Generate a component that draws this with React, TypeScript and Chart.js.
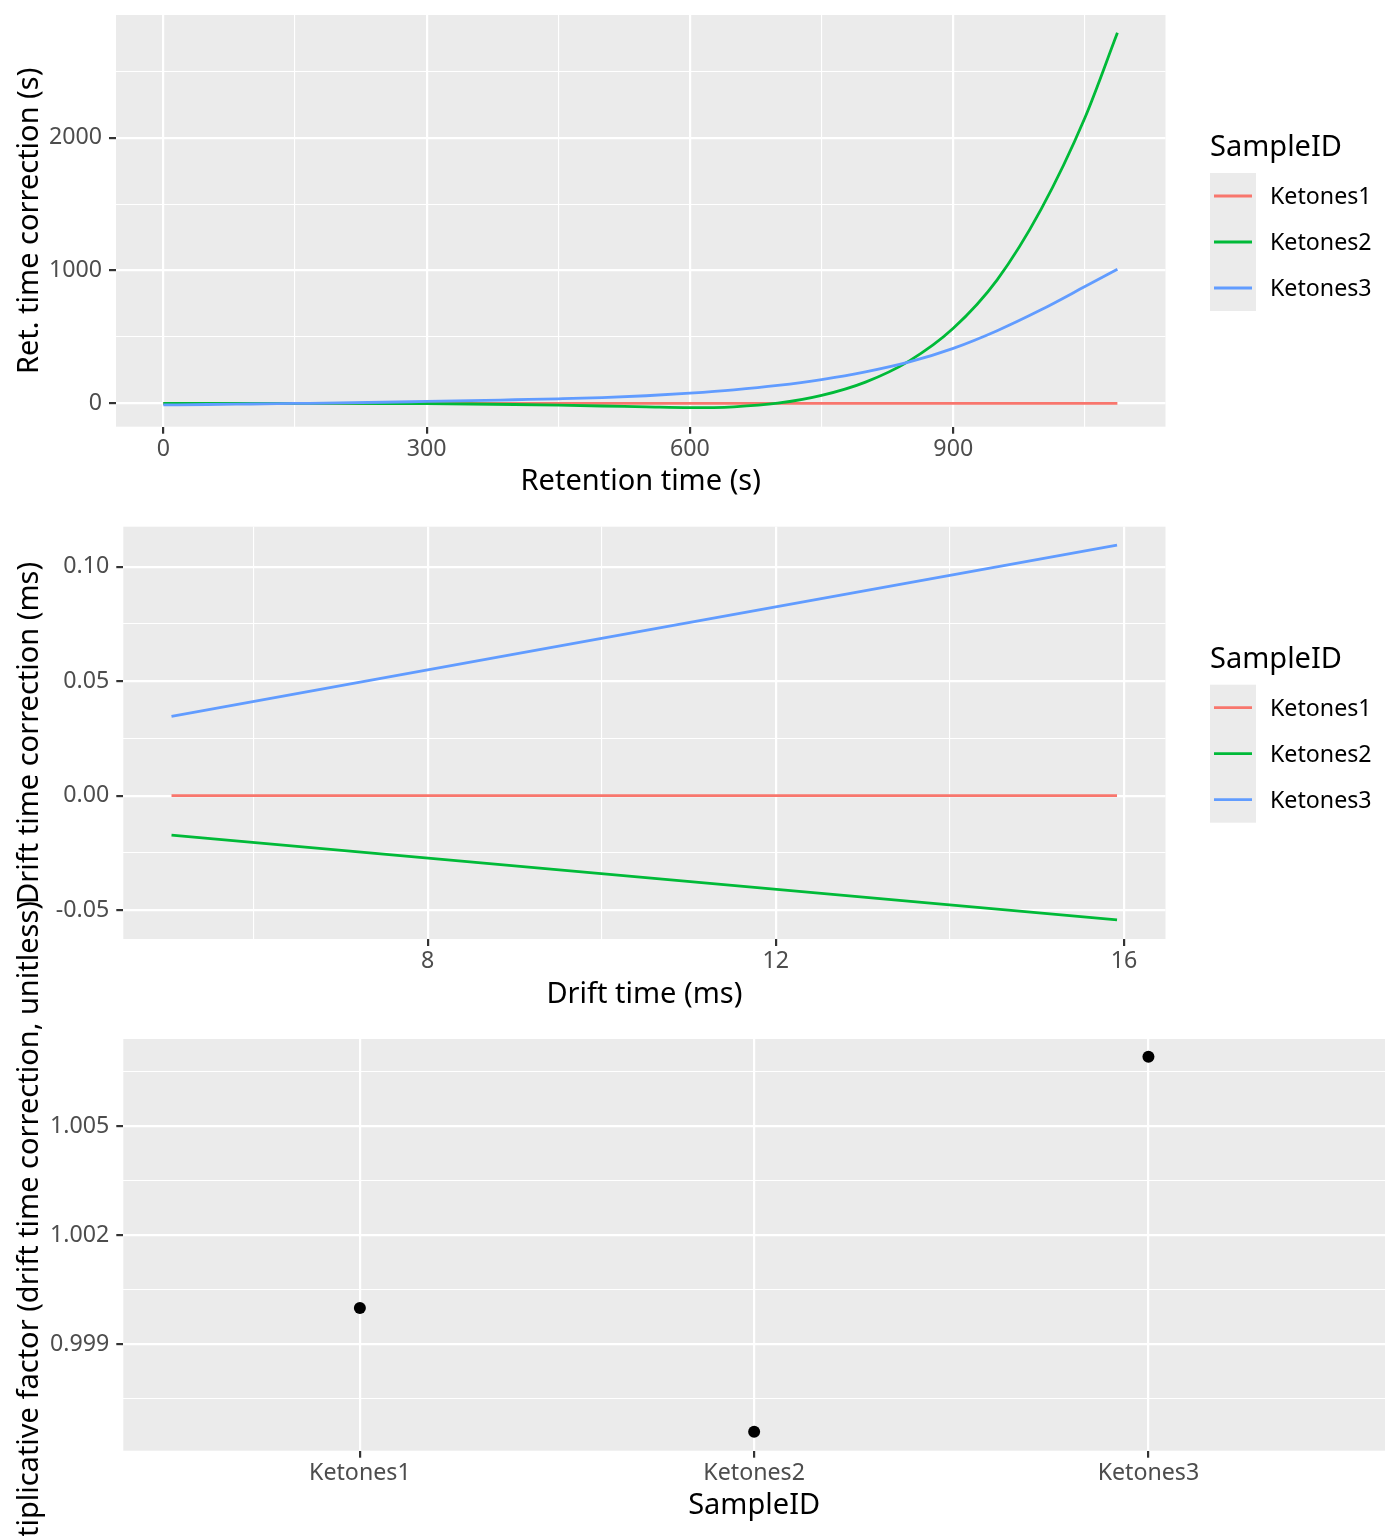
import React, { useEffect, useRef } from "react";
import { Chart, registerables } from "chart.js";

Chart.register(...registerables);

const FONT = "'Noto Sans', 'DejaVu Sans', sans-serif";
const TICK_SIZE = 23.2;
const TITLE_SIZE = 29;

// ---------- data ----------
const sampleIds = ["Ketones1", "Ketones2", "Ketones3"];
const sampleColors = ["#F8766D", "#00BA38", "#619CFF"];

// Panel 1: retention time correction
const retentionTime = [0, 50, 100, 150, 200, 250, 300, 350, 400, 450, 500, 550, 600, 650, 700, 750, 800, 850, 900, 950, 1000, 1050, 1087];
const rtCorrKetones1 = [0, 0, 0, 0, 0, 0, 0, 0, 0, 0, 0, 0, 0, 0, 0, 0, 0, 0, 0, 0, 0, 0, 0];
const rtCorrKetones2 = [0, 0, 0, 0, -1, -2, -3, -5, -9, -14, -20, -27, -33, -26, 1, 60, 160, 320, 565, 930, 1460, 2150, 2790];
const rtCorrKetones3 = [-12, -9, -5, -1, 3, 8, 14, 20, 27, 34, 43, 57, 77, 102, 135, 179, 237, 312, 414, 547, 704, 879, 1010];
const rtXMajor = [0, 300, 600, 900];
const rtXMinor = [150, 450, 750, 1050];
const rtYMajor = [0, 1000, 2000];
const rtYMinor = [500, 1500, 2500];

// Panel 2: drift time correction
const driftTime = [5.057, 15.92];
const dtCorrKetones1 = [0, 0];
const dtCorrKetones2 = [-0.0172, -0.0542];
const dtCorrKetones3 = [0.0347, 0.1095];
const dtXMajor = [8, 12, 16];
const dtXMinor = [6, 10, 14];
const dtYMajor = [-0.05, 0, 0.05, 0.1];
const dtYMinor = [-0.025, 0.025, 0.075];

// Panel 3: multiplicative factor
const multFactor = [1.0, 0.9966, 1.0069];
const mfXMajor = [1, 2, 3];
const mfYMajor = [0.999, 1.002, 1.005];
const mfYMinor = [0.9975, 1.0005, 1.0035, 1.0065];

// ---------- helpers ----------
type Spec = {
  key: string;
  top: number;
  height: number;
  padTop: number;
  padRight: number;
  yAxisWidth: number;
  xAxisHeight: number;
  xMin: number; xMax: number; yMin: number; yMax: number;
  xMajor: number[]; xMinor: number[]; yMajor: number[]; yMinor: number[];
  xFmt: (v: number) => string;
  yFmt: (v: number) => string;
  xTitle: string;
  yTitle: string;
  legend: boolean;
  type: "line" | "scatter";
  datasets: any[];
};

function axis(kind: "x" | "y", min: number, max: number, major: number[], minor: number[], fmt: (v: number) => string, size: number) {
  const isMajor = (v: number) => major.some((m) => Math.abs(m - v) < 1e-9);
  return {
    type: "linear",
    position: kind === "x" ? "bottom" : "left",
    min,
    max,
    afterBuildTicks: (s: any) => {
      s.ticks = [...major, ...minor].sort((a, b) => a - b).map((v) => ({ value: v }));
    },
    afterFit: (s: any) => {
      if (kind === "x") s.height = size;
      else s.width = size;
      s.paddingTop = 0;
      s.paddingBottom = 0;
      s.paddingLeft = 0;
      s.paddingRight = 0;
    },
    grid: {
      color: "#FFFFFF",
      lineWidth: (c: any) => (c.tick && isMajor(c.tick.value) ? 2.2 : 1.1),
      drawOnChartArea: true,
      drawTicks: true,
      tickLength: 7,
      tickWidth: 2.2,
      tickColor: (c: any) => (c.tick && isMajor(c.tick.value) ? "#333333" : "rgba(0,0,0,0)"),
    },
    border: { display: false },
    ticks: {
      autoSkip: false,
      maxRotation: 0,
      minRotation: 0,
      padding: kind === "x" ? 1.5 : 7,
      color: "#4D4D4D",
      font: { family: FONT, size: TICK_SIZE },
      callback: (v: any) => (isMajor(Number(v)) ? fmt(Number(v)) : ""),
    },
    title: { display: false },
  };
}

function makePlugins(spec: Spec) {
  return [
    {
      id: "panelBg",
      beforeDraw(chart: any) {
        const { ctx, chartArea: a } = chart;
        ctx.save();
        ctx.fillStyle = "#EBEBEB";
        ctx.fillRect(a.left, a.top, a.right - a.left, a.bottom - a.top);
        ctx.restore();
      },
    },
    {
      id: "titlesAndLegend",
      afterDraw(chart: any) {
        const { ctx, chartArea: a } = chart;
        ctx.save();
        ctx.fillStyle = "#000000";
        ctx.font = `${TITLE_SIZE}px ${FONT}`;
        ctx.textAlign = "center";
        ctx.textBaseline = "alphabetic";
        ctx.fillText(spec.xTitle, (a.left + a.right) / 2, a.bottom + 63.5);
        ctx.save();
        ctx.translate(38, (a.top + a.bottom) / 2);
        ctx.rotate(-Math.PI / 2);
        ctx.fillText(spec.yTitle, 0, 0);
        ctx.restore();

        if (spec.legend) {
          const lx = 1210;
          const ly = a.top;
          ctx.textAlign = "left";
          ctx.fillText("SampleID", lx, ly + 141);
          ctx.fillStyle = "#EBEBEB";
          ctx.fillRect(lx, ly + 158, 46, 138);
          chart.data.datasets.forEach((ds: any, i: number) => {
            const cy = ly + 181 + 46 * i;
            ctx.strokeStyle = ds.borderColor;
            ctx.lineWidth = 2.8;
            ctx.beginPath();
            ctx.moveTo(lx + 4, cy);
            ctx.lineTo(lx + 42, cy);
            ctx.stroke();
            ctx.fillStyle = "#000000";
            ctx.font = `${TICK_SIZE}px ${FONT}`;
            ctx.fillText(ds.label, lx + 60, cy + 8.3);
          });
        }
        ctx.restore();
      },
    },
  ];
}

function lineSets(xs: number[], series: number[][]) {
  return series.map((ys, i) => ({
    label: sampleIds[i],
    data: xs.map((x, j) => ({ x, y: ys[j] })),
    borderColor: sampleColors[i],
    backgroundColor: sampleColors[i],
    borderWidth: 2.8,
    pointRadius: 0,
    fill: false,
    cubicInterpolationMode: "monotone",
    order: series.length - i,
  }));
}

const specs: Spec[] = [
  {
    key: "rt",
    top: 0,
    height: 512,
    padTop: 15,
    padRight: 234.5,
    yAxisWidth: 116,
    xAxisHeight: 85.3,
    xMin: -53.9, xMax: 1141.8, yMin: -176, yMax: 2924,
    xMajor: rtXMajor, xMinor: rtXMinor, yMajor: rtYMajor, yMinor: rtYMinor,
    xFmt: (v) => String(v),
    yFmt: (v) => String(v),
    xTitle: "Retention time (s)",
    yTitle: "Ret. time correction (s)",
    legend: true,
    type: "line",
    datasets: lineSets(retentionTime, [rtCorrKetones1, rtCorrKetones2, rtCorrKetones3]),
  },
  {
    key: "dt",
    top: 512,
    height: 512,
    padTop: 14.7,
    padRight: 234.5,
    yAxisWidth: 123.3,
    xAxisHeight: 85,
    xMin: 4.503, xMax: 16.477, yMin: -0.0626, yMax: 0.1175,
    xMajor: dtXMajor, xMinor: dtXMinor, yMajor: dtYMajor, yMinor: dtYMinor,
    xFmt: (v) => String(v),
    yFmt: (v) => v.toFixed(2),
    xTitle: "Drift time (ms)",
    yTitle: "Drift time correction (ms)",
    legend: true,
    type: "line",
    datasets: lineSets(driftTime, [dtCorrKetones1, dtCorrKetones2, dtCorrKetones3]),
  },
  {
    key: "mf",
    top: 874,
    height: 662,
    padTop: 165,
    padRight: 15,
    yAxisWidth: 123.3,
    xAxisHeight: 85.3,
    xMin: 0.4, xMax: 3.6, yMin: 0.99608, yMax: 1.00739,
    xMajor: mfXMajor, xMinor: [], yMajor: mfYMajor, yMinor: mfYMinor,
    xFmt: (v) => sampleIds[Math.round(v) - 1] ?? "",
    yFmt: (v) => v.toFixed(3),
    xTitle: "SampleID",
    yTitle: "Multiplicative factor (drift time correction, unitless)",
    legend: false,
    type: "scatter",
    datasets: [
      {
        label: "Multiplicative factor",
        data: multFactor.map((y, i) => ({ x: i + 1, y })),
        backgroundColor: "#000000",
        borderColor: "#000000",
        borderWidth: 0,
        pointRadius: 6,
        pointHoverRadius: 6,
        showLine: false,
      },
    ],
  },
];

function Panel({ spec }: { spec: Spec }) {
  const ref = useRef<HTMLCanvasElement>(null);
  useEffect(() => {
    if (!ref.current) return;
    const chart = new Chart(ref.current, {
      type: spec.type,
      data: { datasets: spec.datasets },
      options: {
        animation: false,
        responsive: false,
        events: [],
        layout: { padding: { top: spec.padTop, right: spec.padRight, left: 0, bottom: 0 } },
        plugins: { legend: { display: false }, tooltip: { enabled: false }, title: { display: false } },
        scales: {
          x: axis("x", spec.xMin, spec.xMax, spec.xMajor, spec.xMinor, spec.xFmt, spec.xAxisHeight),
          y: axis("y", spec.yMin, spec.yMax, spec.yMajor, spec.yMinor, spec.yFmt, spec.yAxisWidth),
        },
      } as any,
      plugins: makePlugins(spec) as any,
    } as any);
    return () => chart.destroy();
  }, [spec]);
  return (
    <canvas
      ref={ref}
      width={1400}
      height={spec.height}
      style={{ position: "absolute", left: 0, top: spec.top, width: 1400, height: spec.height }}
    />
  );
}

export default function App() {
  useEffect(() => {
    document.body.style.margin = "0";
    document.body.style.overflow = "hidden";
    document.body.style.background = "#FFFFFF";
  }, []);
  return (
    <div style={{ position: "absolute", left: 0, top: 0, width: 1400, height: 1536, background: "#FFFFFF", overflow: "hidden" }}>
      {specs.map((s) => (
        <Panel key={s.key} spec={s} />
      ))}
    </div>
  );
}
